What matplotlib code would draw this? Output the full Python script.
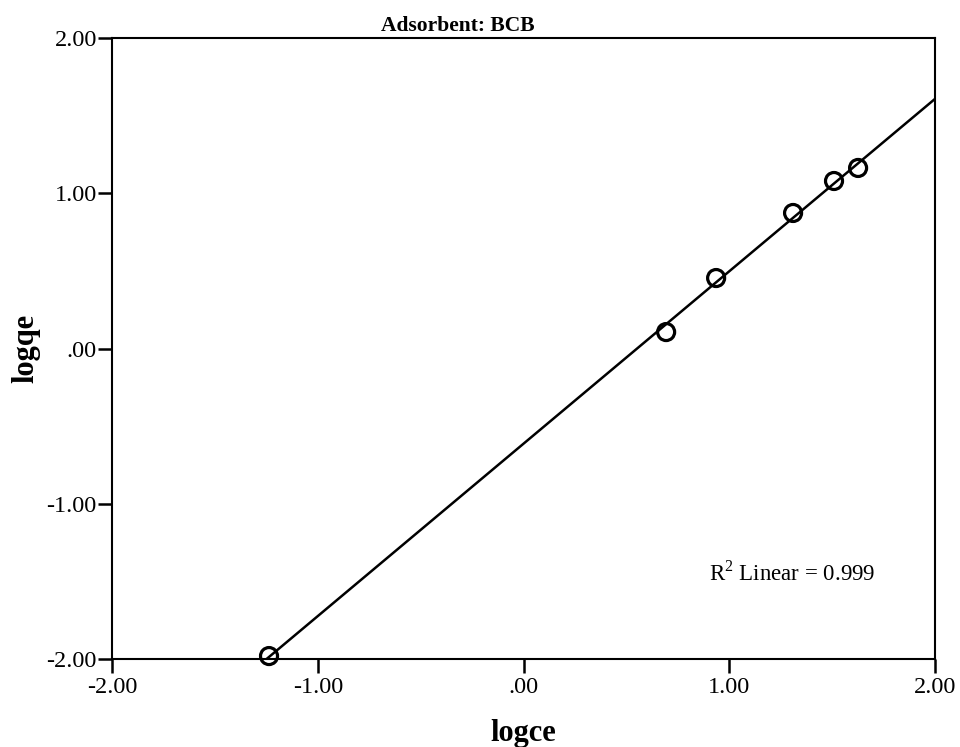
import matplotlib.pyplot as plt
import numpy as np

logce = [-1.237, 0.693, 0.936, 1.310, 1.509, 1.626]
logqe = [-1.981, 0.106, 0.454, 0.873, 1.079, 1.163]
ticks = [-2.0, -1.0, 0.0, 1.0, 2.0]
tick_labels = ['-2.00', '-1.00', '.00', '1.00', '2.00']

plt.rcParams['font.family'] = ['Liberation Serif', 'DejaVu Serif']
plt.rcParams['mathtext.fontset'] = 'custom'
plt.rcParams['mathtext.rm'] = 'Liberation Serif'

fig = plt.figure(figsize=(9.6, 7.47), dpi=100)
ax = fig.add_axes([0.1167, 0.1178, 0.8573, 0.8313])

# least squares fit drawn across the whole x range
slope, icpt = np.polyfit(logce, logqe, 1)
xs = np.array([-2.0, 2.0])
ax.plot(xs, slope * xs + icpt, color='black', lw=1.8, zorder=2)
ax.scatter(logce, logqe, s=150, facecolors='none', edgecolors='black',
           linewidths=2.3, zorder=3, clip_on=False)

ax.set_xlim(-2, 2)
ax.set_ylim(-2, 2)
ax.set_xticks(ticks)
ax.set_xticklabels(tick_labels)
ax.set_yticks(ticks)
ax.set_yticklabels(tick_labels)
ax.tick_params(direction='out', length=10, width=1.8, labelsize=17.5, pad=1)
ax.tick_params(axis='x', pad=3)
for s in ax.spines.values():
    s.set_linewidth(1.5)

ax.set_xlabel('logce', fontsize=22, fontweight='bold', labelpad=15)
ax.set_ylabel('logqe', fontsize=22, fontweight='bold', labelpad=4)
ax.set_title('Adsorbent: BCB', fontsize=15.5, fontweight='bold', pad=5, x=0.42)

ax.text(0.9, -1.45, r'R$^\mathrm{2}$ Linear = 0.999', fontsize=16.5,
        ha='left', va='center')

plt.savefig('out.png', dpi=100)
